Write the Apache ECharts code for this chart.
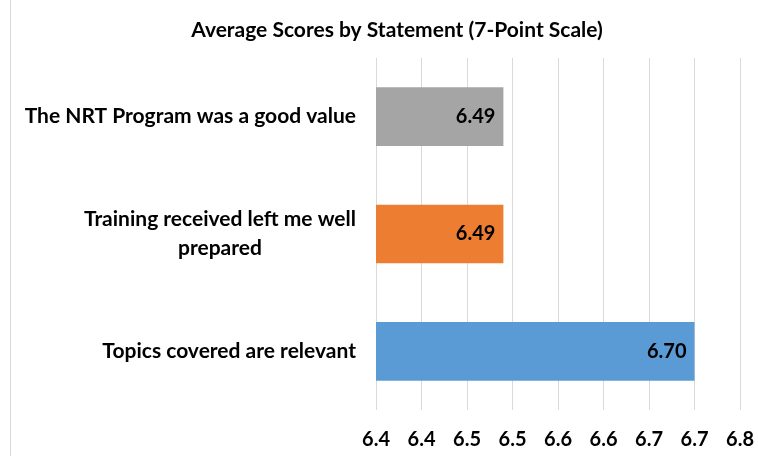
<!DOCTYPE html>
<html>
<head>
<meta charset="utf-8">
<script src="https://cdn.jsdelivr.net/npm/echarts@6/dist/echarts.min.js"></script>
<style>
  html, body { margin: 0; padding: 0; background: #fff; }
  #main { width: 758px; height: 456px; }
</style>
</head>
<body>
<div id="main"></div>
<script>
// categories bottom -> top (as echarts draws a category y axis)
var categories = ['Topics covered are relevant', 'Training received left me well\nprepared', 'The NRT Program was a good value'];
var scores = [6.70, 6.49, 6.49];
var barColors = ['#5b9bd5', '#ed7d31', '#a5a5a5'];
// tick labels as printed on the axis (6.35 .. 6.75 shown with one decimal)
var tickLabels = ['6.4', '6.4', '6.5', '6.5', '6.6', '6.6', '6.7', '6.7', '6.8'];
var axisMin = 6.35, axisMax = 6.75, axisStep = 0.05;

var font = 'Lato, "Noto Sans", sans-serif';
var myChart = echarts.init(document.getElementById('main'));

var option = {
  backgroundColor: '#fff',
  animation: false,
  title: {
    text: 'Average Scores by Statement (7-Point Scale)',
    left: 392,
    top: 15,
    textAlign: 'center',
    textStyle: { color: '#000', fontSize: 21, fontWeight: 'bold', fontFamily: font }
  },
  graphic: [{
    type: 'line',
    shape: { x1: 10.5, y1: 0, x2: 10.5, y2: 456 },
    style: { stroke: '#d9d9d9', lineWidth: 1 }
  }],
  grid: { left: 376, right: 18, top: 58, bottom: 46 },
  xAxis: {
    type: 'value',
    min: axisMin,
    max: axisMax,
    interval: axisStep,
    axisLine: { show: false },
    axisTick: { show: false },
    splitLine: { lineStyle: { color: '#d9d9d9', width: 1 } },
    axisLabel: {
      margin: 20,
      color: '#000',
      fontSize: 20,
      fontWeight: 'bold',
      fontFamily: font,
      formatter: function (v) {
        var i = Math.round((v - axisMin) / axisStep);
        return tickLabels[i];
      }
    }
  },
  yAxis: {
    type: 'category',
    data: categories,
    axisLine: { show: false },
    axisTick: { show: false },
    axisLabel: {
      margin: 20,
      formatter: function (v) {
        return v.split('\n').map(function (s) { return '{a|' + s + '}'; }).join('\n');
      },
      rich: {
        a: { align: 'center', color: '#000', fontSize: 21, fontWeight: 'bold', fontFamily: font, lineHeight: 29 }
      }
    }
  },
  series: [{
    type: 'bar',
    barWidth: '50%',
    data: scores.map(function (v, i) {
      return { value: v, itemStyle: { color: barColors[i] } };
    }),
    label: {
      show: true,
      position: 'insideRight',
      distance: 8,
      color: '#000',
      fontSize: 20,
      fontWeight: 'bold',
      fontFamily: font,
      formatter: function (p) { return p.value.toFixed(2); }
    }
  }]
};

myChart.setOption(option);
</script>
</body>
</html>
